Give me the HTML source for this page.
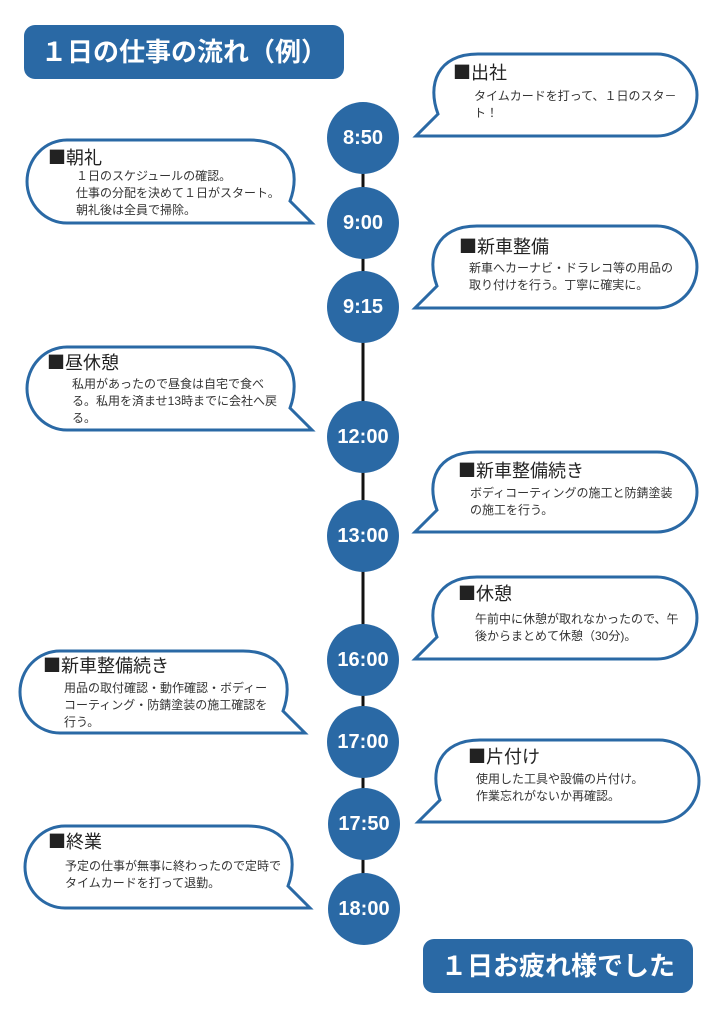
<!DOCTYPE html>
<html><head><meta charset="utf-8"><style>
body{margin:0;width:724px;height:1024px;background:#fff;position:relative;overflow:hidden;font-family:"Liberation Sans","Noto Sans CJK JP",sans-serif;color:#333}
svg{position:absolute;left:0;top:0}
.t{position:absolute;font-family:"Noto Sans CJK JP",sans-serif;font-size:18px;line-height:20px;white-space:nowrap;color:#222}
.b{position:absolute;font-size:12px;line-height:17px;white-space:nowrap;color:#333}
.h{position:absolute;color:#fff;font-weight:bold;font-size:26px;line-height:54px;text-align:center}
.c{position:absolute;width:72px;text-align:center;color:#fff;font-weight:bold;font-size:20px;line-height:20px}
</style></head><body>
<svg width="724" height="1024" viewBox="0 0 724 1024">
<line x1="363" y1="138" x2="363" y2="909" stroke="#111" stroke-width="3"/>
<rect x="24" y="25" width="320" height="54" rx="11" fill="#2a69a5"/>
<rect x="423" y="939" width="270" height="54" rx="11" fill="#2a69a5"/>
<g fill="#2a69a5">
<circle cx="363" cy="138" r="36"/><circle cx="363" cy="223" r="36"/><circle cx="363" cy="307" r="36"/>
<circle cx="363" cy="437" r="36"/><circle cx="363" cy="536" r="36"/><circle cx="363" cy="660" r="36"/>
<circle cx="363" cy="742" r="36"/><circle cx="364" cy="824" r="36"/><circle cx="364" cy="909" r="36"/>
</g>
<g fill="#fff" stroke="#2a69a5" stroke-width="3" stroke-linejoin="miter">
<path d="M478,54 H657 A40,41 0 0 1 657,136 H416 L438,114 C427,85 437,54 478,54 Z"/>
<path d="M477,226 H657 A40,41 0 0 1 657,308 H415 L437,286 C426,257 436,226 477,226 Z"/>
<path d="M477,452 H657 A40,40 0 0 1 657,532 H415 L437,510 C426,482 436,452 477,452 Z"/>
<path d="M477,577 H657 A40,41 0 0 1 657,659 H415 L437,637 C426,608 436,577 477,577 Z"/>
<path d="M480,740 H659 A40,41 0 0 1 659,822 H418 L440,800 C429,771 439,740 480,740 Z"/>
<path d="M67,140 H250 C291,140 301,172 290,201 L312,223 H67 A40,41.5 0 0 1 67,140 Z"/>
<path d="M67,347 H250 C291,347 301,379 290,408 L312,430 H67 A40,41.5 0 0 1 67,347 Z"/>
<path d="M60,651 H243 C284,651 294,682 283,711 L305,733 H60 A40,41 0 0 1 60,651 Z"/>
<path d="M65,826 H248 C289,826 299,857 288,886 L310,908 H65 A40,41 0 0 1 65,826 Z"/>
</g>
</svg>
<div class="h" style="left:24px;top:25px;width:320px">１日の仕事の流れ（例）</div>
<div class="h" style="left:423px;top:939px;width:270px">１日お疲れ様でした</div>
<div class="c" style="left:327px;top:128px">8:50</div>
<div class="c" style="left:327px;top:213px">9:00</div>
<div class="c" style="left:327px;top:297px">9:15</div>
<div class="c" style="left:327px;top:427px">12:00</div>
<div class="c" style="left:327px;top:526px">13:00</div>
<div class="c" style="left:327px;top:650px">16:00</div>
<div class="c" style="left:327px;top:732px">17:00</div>
<div class="c" style="left:328px;top:814px">17:50</div>
<div class="c" style="left:328px;top:899px">18:00</div>

<div class="t" style="left:453px;top:62px">■出社</div>
<div class="b" style="left:474px;top:88px">タイムカードを打って、１日のスタ－<br>ト！</div>
<div class="t" style="left:48px;top:147px">■朝礼</div>
<div class="b" style="left:76px;top:168px">１日のスケジュールの確認。<br>仕事の分配を決めて１日がスタート。<br>朝礼後は全員で掃除。</div>
<div class="t" style="left:459px;top:236px">■新車整備</div>
<div class="b" style="left:469px;top:260px">新車へカーナビ・ドラレコ等の用品の<br>取り付けを行う。丁寧に確実に。</div>
<div class="t" style="left:47px;top:352px">■昼休憩</div>
<div class="b" style="left:72px;top:376px">私用があったので昼食は自宅で食べ<br>る。私用を済ませ13時までに会社へ戻<br>る。</div>
<div class="t" style="left:458px;top:460px">■新車整備続き</div>
<div class="b" style="left:470px;top:485px">ボディコーティングの施工と防錆塗装<br>の施工を行う。</div>
<div class="t" style="left:458px;top:583px">■休憩</div>
<div class="b" style="left:475px;top:611px">午前中に休憩が取れなかったので、午<br>後からまとめて休憩（30分)。</div>
<div class="t" style="left:43px;top:655px">■新車整備続き</div>
<div class="b" style="left:64px;top:680px">用品の取付確認・動作確認・ボディー<br>コーティング・防錆塗装の施工確認を<br>行う。</div>
<div class="t" style="left:468px;top:746px">■片付け</div>
<div class="b" style="left:476px;top:771px">使用した工具や設備の片付け。<br>作業忘れがないか再確認。</div>
<div class="t" style="left:48px;top:831px">■終業</div>
<div class="b" style="left:65px;top:858px">予定の仕事が無事に終わったので定時で<br>タイムカードを打って退勤。</div>
</body></html>
